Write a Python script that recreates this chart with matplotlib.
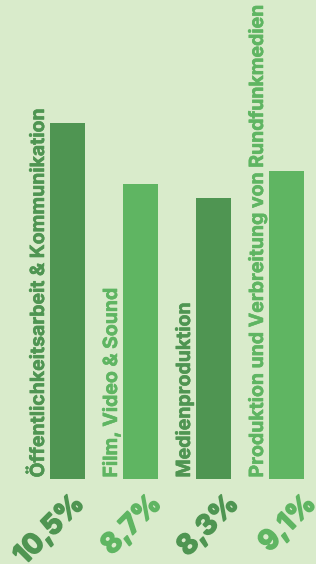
import numpy as np
import matplotlib
matplotlib.use("Agg")
from matplotlib import pyplot as plt
from matplotlib import patheffects
from matplotlib.transforms import IdentityTransform

categories = ["Öffentlichkeitsarbeit & Kommunikation",
              "Film, Video & Sound",
              "Medienproduktion",
              "Produktion und Verbreitung von Rundfunkmedien"]
values = [10.5, 8.7, 8.3, 9.1]
value_labels = ["10,5%", "8,7%", "8,3%", "9,1%"]

bg = "#d9ebcb"
dark = "#4f9552"
light = "#5fb562"
colors = [dark, light, dark, light]

plt.rcParams['font.family'] = ['Inter', 'DejaVu Sans']

W, H = 316, 564
fig = plt.figure(figsize=(W/100, H/100), dpi=100, facecolor=bg)
ax = fig.add_axes([0, 1 - 479/H, 1, 479/H])
ax.set_facecolor(bg)

x = np.arange(len(values))
w = 35/73
ax.bar(x, values, width=w, color=colors)
ax.set_xlim(-67.5/73, (W-67.5)/73)
ax.set_ylim(0, 479/33.9)
ax.axis('off')

for i, (cat, lab) in enumerate(zip(categories, value_labels)):
    ax.annotate(cat, (x[i] - w/2, 0), xytext=(-2, 1.5), textcoords='offset pixels',
                rotation=90, ha='right', va='bottom', fontsize=14,
                fontweight='bold', color=colors[i],
                path_effects=[patheffects.withStroke(linewidth=0.4, foreground=colors[i])])
    # percent labels: baseline end, evenly spaced under the bars
    fig.text(85 + 77.3*i, H - 505, lab, transform=IdentityTransform(),
             rotation=45, rotation_mode='anchor', ha='right', va='baseline',
             fontsize=20, fontweight='bold', color=colors[i],
             path_effects=[patheffects.withStroke(linewidth=1.3, foreground=colors[i])])

fig.savefig("out.png", dpi=100, facecolor=bg)
